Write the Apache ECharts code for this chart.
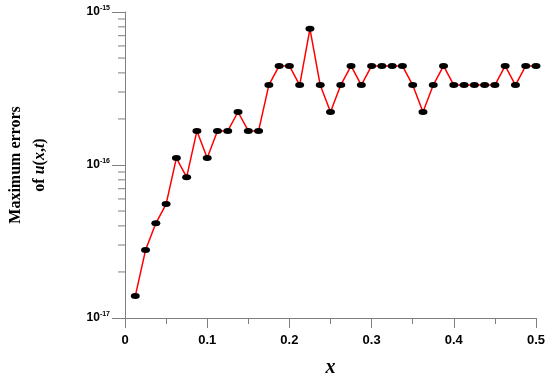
<!DOCTYPE html>
<html>
<head>
<meta charset="utf-8">
<script src="https://cdn.jsdelivr.net/npm/echarts@6/dist/echarts.min.js"></script>
<style>
  html, body { margin: 0; padding: 0; background: #fff; }
  #chart { width: 550px; height: 380px; }
</style>
</head>
<body>
<div id="chart"></div>
<script>
// x positions of the points
var xs = [0.0125, 0.025, 0.0375, 0.05, 0.0625, 0.075, 0.0875, 0.1, 0.1125, 0.125,
  0.1375, 0.15, 0.1625, 0.175, 0.1875, 0.2, 0.2125, 0.225, 0.2375, 0.25,
  0.2625, 0.275, 0.2875, 0.3, 0.3125, 0.325, 0.3375, 0.35, 0.3625, 0.375,
  0.3875, 0.4, 0.4125, 0.425, 0.4375, 0.45, 0.4625, 0.475, 0.4875, 0.5];
// maximum errors of u(x,t)
var errs = [1.39e-17, 2.78e-17, 4.16e-17, 5.55e-17, 1.11e-16, 8.33e-17, 1.67e-16, 1.11e-16, 1.67e-16, 1.67e-16,
  2.22e-16, 1.67e-16, 1.67e-16, 3.33e-16, 4.44e-16, 4.44e-16, 3.33e-16, 7.77e-16, 3.33e-16, 2.22e-16,
  3.33e-16, 4.44e-16, 3.33e-16, 4.44e-16, 4.44e-16, 4.44e-16, 4.44e-16, 3.33e-16, 2.22e-16, 3.33e-16,
  4.44e-16, 3.33e-16, 3.33e-16, 3.33e-16, 3.33e-16, 3.33e-16, 4.44e-16, 3.33e-16, 4.44e-16, 4.44e-16];
// minor ticks of the log axis
var yMinor = [2e-17, 3e-17, 4e-17, 5e-17, 6e-17, 7e-17, 8e-17, 9e-17,
  2e-16, 3e-16, 4e-16, 5e-16, 6e-16, 7e-16, 8e-16, 9e-16];

var axisGrey = "#7f7f7f";
var chart = echarts.init(document.getElementById("chart"));
var option = {
  animation: false,
  grid: { left: 125, right: 14, top: 12, bottom: 62, outerBoundsMode: "none", containLabel: false },
  xAxis: {
    type: "value",
    min: 0,
    max: 0.5,
    interval: 0.1,
    name: "x",
    nameLocation: "middle",
    nameGap: 40,
    nameTextStyle: { fontFamily: "Liberation Serif", fontStyle: "italic", fontWeight: "bold", fontSize: 20, color: "#000" },
    axisLine: { lineStyle: { color: axisGrey, width: 1 } },
    axisTick: { show: true, length: 10, lineStyle: { color: axisGrey } },
    minorTick: { show: true, splitNumber: 2, length: 6, lineStyle: { color: axisGrey } },
    splitLine: { show: false },
    axisLabel: {
      margin: 16,
      color: "#000",
      fontFamily: "Liberation Sans",
      fontWeight: "bold",
      fontSize: 13,
      formatter: function (v) { return v === 0 ? "0" : String(+v.toFixed(1)); }
    }
  },
  yAxis: {
    type: "log",
    min: 1e-17,
    max: 1e-15,
    name: "Maximum errors\nof {i|u}({i|x},{i|t})",
    nameLocation: "middle",
    nameRotate: 90,
    nameGap: 73,
    nameTextStyle: {
      fontFamily: "Liberation Serif",
      fontWeight: "bold",
      fontSize: 16,
      lineHeight: 24,
      color: "#000",
      rich: {
        i: { fontFamily: "Liberation Serif", fontWeight: "bold", fontStyle: "italic", fontSize: 16, lineHeight: 24, color: "#000" }
      }
    },
    axisLine: { show: true, lineStyle: { color: axisGrey, width: 1 } },
    axisTick: { show: true, length: 13, lineStyle: { color: axisGrey } },
    splitLine: { show: false },
    axisLabel: {
      margin: 15,
      color: "#000",
      formatter: function (v) {
        var e = Math.round(Math.log10(v));
        return "{b|10}{s|" + e + "}";
      },
      rich: {
        b: { fontFamily: "Liberation Sans", fontWeight: "bold", fontSize: 12, color: "#000", lineHeight: 14 },
        s: { fontFamily: "Liberation Sans", fontWeight: "bold", fontSize: 7, color: "#000", verticalAlign: "top" }
      }
    }
  },
  series: [
    {
      type: "line",
      data: xs.map(function (x, i) { return [x, errs[i]]; }),
      lineStyle: { color: "#ff0000", width: 1.5 },
      itemStyle: { color: "#000" },
      symbol: "circle",
      symbolSize: [9, 6],
      showAllSymbol: true,
      z: 3
    },
    {
      // minor ticks of the log y axis
      type: "custom",
      silent: true,
      clip: false,
      data: yMinor.map(function (v) { return [0, v]; }),
      renderItem: function (params, api) {
        var p = api.coord([0, api.value(1)]);
        return {
          type: "line",
          shape: { x1: p[0] - 7, y1: p[1], x2: p[0], y2: p[1] },
          style: { stroke: axisGrey, lineWidth: 1 }
        };
      },
      z: 1
    }
  ]
};
chart.setOption(option);
</script>
</body>
</html>
